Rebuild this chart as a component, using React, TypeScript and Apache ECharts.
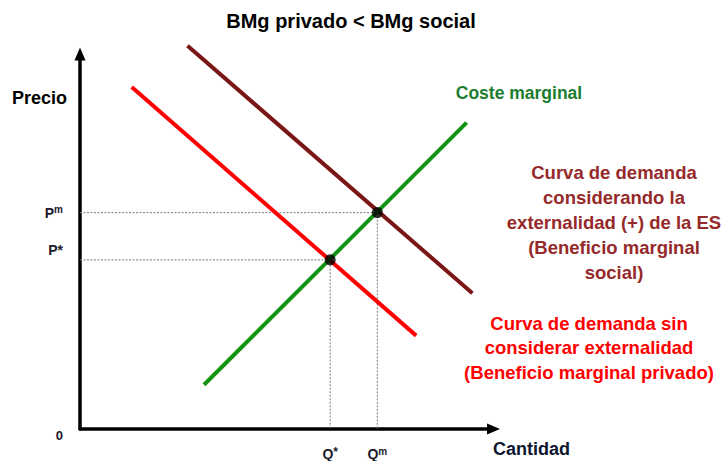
import React, { useEffect, useRef } from "react";
import * as echarts from "echarts";

// ---- data (axis units: 0..10 on both axes) ----
const privateDemand: [number, number][] = [[1.25, 9.12], [8.13, 2.49]];
const socialDemand: [number, number][] = [[2.6, 10.22], [9.49, 3.62]];
const marginalCost: [number, number][] = [[3.0, 1.18], [9.35, 8.17]];
const equilibria: [number, number][] = [[6.05, 4.51], [7.19, 5.77]];
const qStar = 6.05, pStar = 4.51, qM = 7.19, pM = 5.77;

const yTickValues = [0, pStar, pM];
const yTickLabels = ["{o|0}", "{bs|P*}", "{b|P}{s|m}"];
const xTickValues = [qStar, qM];
const xTickLabels = ["{b|Q}{st|*}", "{b|Q}{s|m}"];

const titleText = "BMg privado < BMg social";
const yName = "Precio";
const xName = "Cantidad";
const mcLabel = "Coste marginal";
const socialLabel = [
  "Curva de demanda",
  "considerando la",
  "externalidad (+) de la ES",
  "(Beneficio marginal",
  "social)",
];
const privateLabel = [
  "Curva de demanda sin",
  "considerar externalidad",
  "(Beneficio marginal privado)",
];

const FONT = '"Liberation Sans", Arial, sans-serif';
const GREEN = "#149414";
const DARKRED = "#7a1616";
const RED = "#ff0000";
const INK = "#1a1a2a";

function pickLabel(values: number[], labels: string[], v: number) {
  let best = 0;
  for (let i = 1; i < values.length; i++) {
    if (Math.abs(values[i] - v) < Math.abs(values[best] - v)) best = i;
  }
  return labels[best];
}

const richCommon = {
  b: { fontSize: 14, fontWeight: "bold", fontFamily: FONT, color: INK, lineHeight: 16 },
  s: { fontSize: 10, fontWeight: "bold", fontFamily: FONT, color: INK, lineHeight: 10, verticalAlign: "top" },
  st: { fontSize: 12, fontWeight: "bold", fontFamily: FONT, color: INK, lineHeight: 12, verticalAlign: "top" },
  bs: { fontSize: 14, fontWeight: "bold", fontFamily: FONT, color: INK, lineHeight: 16, padding: [0, 0, 19, 0] },
  o: { fontSize: 13, fontWeight: "bold", fontFamily: FONT, color: INK, lineHeight: 14, padding: [12, 0, 0, 0] },
};

export default function App() {
  const ref = useRef<HTMLDivElement>(null);
  useEffect(() => {
    if (!ref.current) return;
    const chart = echarts.init(ref.current, undefined, { renderer: "svg" });
    const axisLine = {
      show: true,
      symbol: ["none", "triangle"],
      symbolSize: [11, 13],
      lineStyle: { color: "#000", width: 3.5, cap: "round" },
    };
    const guide = { color: "#7a7a7a", width: 1, type: [2, 1.5] };
    chart.setOption({
      animation: false,
      backgroundColor: "#fff",
      grid: { left: 80, top: 54, width: 413.5, height: 378 },
      xAxis: {
        type: "value",
        min: 0,
        max: 10,
        axisLine,
        axisTick: { show: false },
        splitLine: { show: false },
        axisLabel: {
          show: true,
          margin: 17,
          customValues: xTickValues,
          formatter: (v: number) => pickLabel(xTickValues, xTickLabels, v),
          rich: richCommon,
        },
      },
      yAxis: {
        type: "value",
        min: 0,
        max: 10,
        axisLine,
        axisTick: { show: false },
        splitLine: { show: false },
        axisLabel: {
          show: true,
          margin: 17,
          customValues: yTickValues,
          formatter: (v: number) => pickLabel(yTickValues, yTickLabels, v),
          rich: richCommon,
        },
      },
      series: [
        {
          type: "line",
          data: [[0, pM], [qM, pM], [qM, 0]],
          symbol: "none",
          lineStyle: guide,
          z: 1,
          silent: true,
        },
        {
          type: "line",
          data: [[0, pStar], [qStar, pStar], [qStar, 0]],
          symbol: "none",
          lineStyle: guide,
          z: 1,
          silent: true,
        },
        {
          type: "line",
          data: privateDemand,
          symbol: "none",
          clip: false,
          lineStyle: { color: RED, width: 4 },
          z: 3,
          silent: true,
        },
        {
          type: "line",
          data: socialDemand,
          symbol: "none",
          clip: false,
          lineStyle: { color: DARKRED, width: 4 },
          z: 3,
          silent: true,
        },
        {
          type: "line",
          data: marginalCost,
          symbol: "none",
          clip: false,
          lineStyle: { color: GREEN, width: 4 },
          z: 4,
          silent: true,
        },
        {
          type: "scatter",
          data: equilibria,
          symbol: "circle",
          symbolSize: 11,
          itemStyle: { color: "#000" },
          z: 5,
          silent: true,
        },
      ],
      graphic: [
        {
          type: "text",
          x: 351,
          y: 21,
          style: { text: titleText, fill: "#000", fontSize: 20, fontWeight: "bold", fontFamily: FONT, align: "center", verticalAlign: "middle" },
        },
        {
          type: "text",
          x: 12,
          y: 98,
          style: { text: yName, fill: "#000", fontSize: 18, fontWeight: "bold", fontFamily: FONT, align: "left", verticalAlign: "middle" },
        },
        {
          type: "text",
          x: 493,
          y: 449,
          style: { text: xName, fill: "#0d1530", fontSize: 18, fontWeight: "bold", fontFamily: FONT, align: "left", verticalAlign: "middle" },
        },
        {
          type: "text",
          x: 519,
          y: 93,
          style: { text: mcLabel, fill: "#1b7d2e", fontSize: 17.5, fontWeight: "bold", fontFamily: FONT, align: "center", verticalAlign: "middle" },
        },
        {
          type: "text",
          x: 614,
          y: 222.5,
          style: { text: socialLabel.join("\n"), fill: "#962a2a", fontSize: 18.5, lineHeight: 25.2, fontWeight: "bold", fontFamily: FONT, align: "center", verticalAlign: "middle" },
        },
        {
          type: "text",
          x: 589,
          y: 347.5,
          style: { text: privateLabel.join("\n"), fill: RED, fontSize: 18.5, lineHeight: 24.5, fontWeight: "bold", fontFamily: FONT, align: "center", verticalAlign: "middle" },
        },
      ],
    });
    return () => chart.dispose();
  }, []);
  return (
    <div
      ref={ref}
      style={{ position: "absolute", left: 0, top: 0, width: 724, height: 461 }}
    />
  );
}
